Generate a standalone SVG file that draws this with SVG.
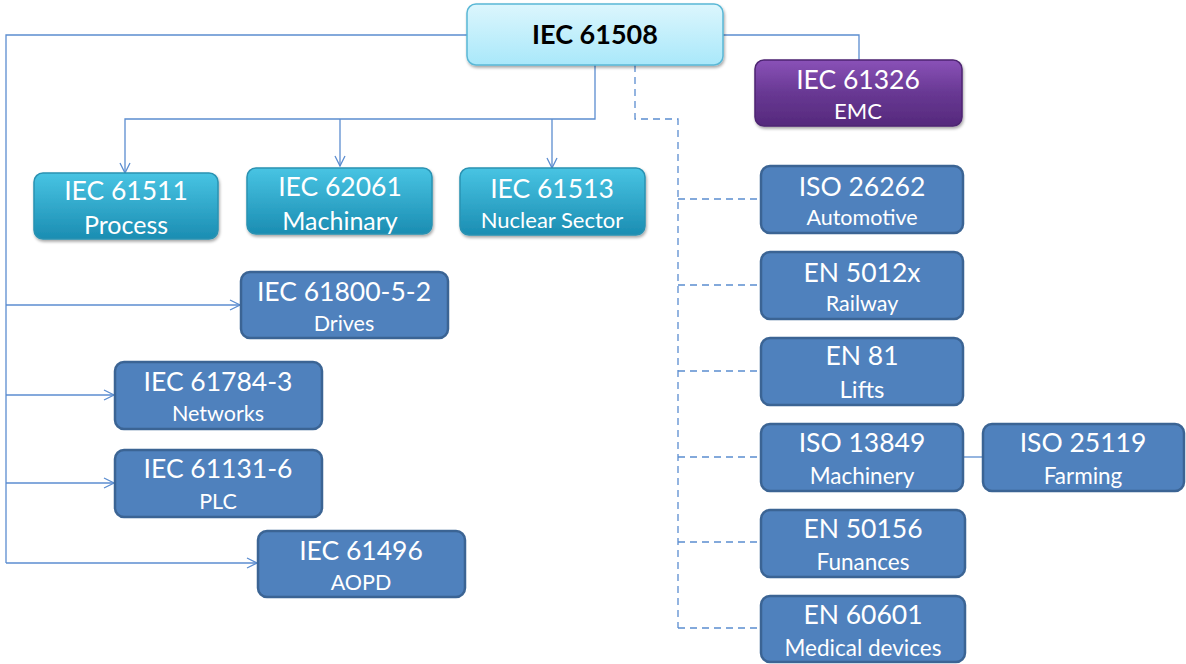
<svg xmlns="http://www.w3.org/2000/svg" width="1186" height="664" viewBox="0 0 1186 664">
<style>
.t{font-family:Lato,"Liberation Sans",sans-serif;fill:#fff;text-anchor:middle}
.h{font-size:26.5px}
.s{font-size:21.5px}
.blue{fill:#4f81bd;stroke:#3b6494;stroke-width:2.5}
.cyan{fill:url(#gc);stroke:#2a92b2;stroke-width:1.5}
.ln{fill:none;stroke:#5b8dd0;stroke-width:1.3}
.dl{fill:none;stroke:#5b8dd0;stroke-width:1.3;stroke-dasharray:7 5}
</style>
<defs>
<linearGradient id="gc" x1="0" y1="0" x2="0" y2="1"><stop offset="0" stop-color="#48c4e3"/><stop offset="1" stop-color="#1b8db2"/></linearGradient>
<linearGradient id="gt" x1="0" y1="0" x2="0" y2="1"><stop offset="0" stop-color="#dcf6fd"/><stop offset="1" stop-color="#a9e8fa"/></linearGradient>
<linearGradient id="gp" x1="0" y1="0" x2="0" y2="1"><stop offset="0" stop-color="#8a52b8"/><stop offset="0.5" stop-color="#683893"/><stop offset="1" stop-color="#55297c"/></linearGradient>
<filter id="sh" x="-10%" y="-10%" width="120%" height="140%"><feDropShadow dx="1" dy="2" stdDeviation="1.5" flood-color="#000" flood-opacity="0.35"/></filter>
<marker id="ar" viewBox="0 0 12 12" refX="11" refY="6" markerWidth="12" markerHeight="12" markerUnits="userSpaceOnUse" orient="auto"><path d="M1,1 L11,6 L1,11" fill="none" stroke="#5b8dd0" stroke-width="1.3"/></marker>
</defs>
<g id="connectors">
<path class="ln" d="M467,35 H6 V563"/>
<path class="ln" d="M6,305 H240" marker-end="url(#ar)"/>
<path class="ln" d="M6,395 H114" marker-end="url(#ar)"/>
<path class="ln" d="M6,483 H114" marker-end="url(#ar)"/>
<path class="ln" d="M6,563 H257" marker-end="url(#ar)"/>
<path class="ln" d="M595,65 V119 H125 V173" marker-end="url(#ar)"/>
<path class="ln" d="M340,119 V166" marker-end="url(#ar)"/>
<path class="ln" d="M552,119 V168" marker-end="url(#ar)"/>
<path class="ln" d="M723,35 H859 V60"/>
<path class="dl" d="M635,65 V119 H678 V628"/>
<path class="dl" d="M678,199 H760 M678,285 H760 M678,371 H760 M678,457 H760 M678,542 H760 M678,628 H760"/>
<path class="ln" d="M963,457 H983"/>
</g>
<g id="n61508"><rect x="467" y="4" width="256" height="61" rx="9" fill="url(#gt)" stroke="#5ab8d6" stroke-width="1.5" filter="url(#sh)"/><text x="595" y="44" style="font-family:Lato,'Liberation Sans',sans-serif;font-size:27px;font-weight:bold;fill:#000;text-anchor:middle">IEC 61508</text></g>
<g id="n61326"><rect x="755" y="60" width="207" height="66" rx="9" fill="url(#gp)" stroke="#4e2572" stroke-width="1.5" filter="url(#sh)"/><text class="t h" x="858" y="89">IEC 61326</text><text class="t" style="font-size:22px" x="858" y="119">EMC</text></g>
<g id="n61511"><rect class="cyan" x="34" y="173" width="184" height="66" rx="9" filter="url(#sh)"/><text class="t h" x="126" y="200">IEC 61511</text><text class="t" style="font-size:25px" x="126" y="234">Process</text></g>
<g id="n62061"><rect class="cyan" x="247" y="168" width="185" height="66" rx="9" filter="url(#sh)"/><text class="t h" x="340" y="196">IEC 62061</text><text class="t" style="font-size:25px" x="340" y="230">Machinary</text></g>
<g id="n61513"><rect class="cyan" x="460" y="168" width="185" height="67" rx="9" filter="url(#sh)"/><text class="t h" x="552" y="198">IEC 61513</text><text class="t" style="font-size:22px" x="552" y="228">Nuclear Sector</text></g>
<g id="n61800"><rect class="blue" x="241" y="272" width="207" height="66" rx="9"/><text class="t h" x="344" y="301">IEC 61800-5-2</text><text class="t s" x="344" y="331">Drives</text></g>
<g id="n61784"><rect class="blue" x="115" y="362" width="207" height="67" rx="9"/><text class="t h" x="218" y="391">IEC 61784-3</text><text class="t s" x="218" y="421">Networks</text></g>
<g id="n61131"><rect class="blue" x="115" y="450" width="207" height="67" rx="9"/><text class="t h" x="218" y="478">IEC 61131-6</text><text class="t s" x="218" y="509">PLC</text></g>
<g id="n61496"><rect class="blue" x="258" y="531" width="207" height="66" rx="9"/><text class="t h" x="361" y="560">IEC 61496</text><text class="t s" x="361" y="590">AOPD</text></g>
<g id="n26262"><rect class="blue" x="761" y="166" width="202" height="67" rx="9"/><text class="t h" x="862" y="196">ISO 26262</text><text class="t s" x="862" y="225">Automotive</text></g>
<g id="n5012x"><rect class="blue" x="761" y="252" width="202" height="67" rx="9"/><text class="t h" x="862" y="282">EN 5012x</text><text class="t s" x="862" y="311">Railway</text></g>
<g id="n81"><rect class="blue" x="761" y="338" width="202" height="67" rx="9"/><text class="t h" x="862" y="365">EN 81</text><text class="t" style="font-size:24px" x="862" y="398">Lifts</text></g>
<g id="n13849"><rect class="blue" x="761" y="424" width="202" height="67" rx="9"/><text class="t h" x="862" y="452">ISO 13849</text><text class="t" style="font-size:22.5px" x="862" y="484">Machinery</text></g>
<g id="n25119"><rect class="blue" x="983" y="424" width="201" height="67" rx="9"/><text class="t h" x="1083" y="452">ISO 25119</text><text class="t" style="font-size:22.5px" x="1083" y="484">Farming</text></g>
<g id="n50156"><rect class="blue" x="761" y="510" width="204" height="67" rx="9"/><text class="t h" x="863" y="538">EN 50156</text><text class="t" style="font-size:22.5px" x="863" y="570">Funances</text></g>
<g id="n60601"><rect class="blue" x="761" y="596" width="204" height="66" rx="9"/><text class="t h" x="863" y="624">EN 60601</text><text class="t" style="font-size:22.5px" x="863" y="656">Medical devices</text></g>
</svg>
